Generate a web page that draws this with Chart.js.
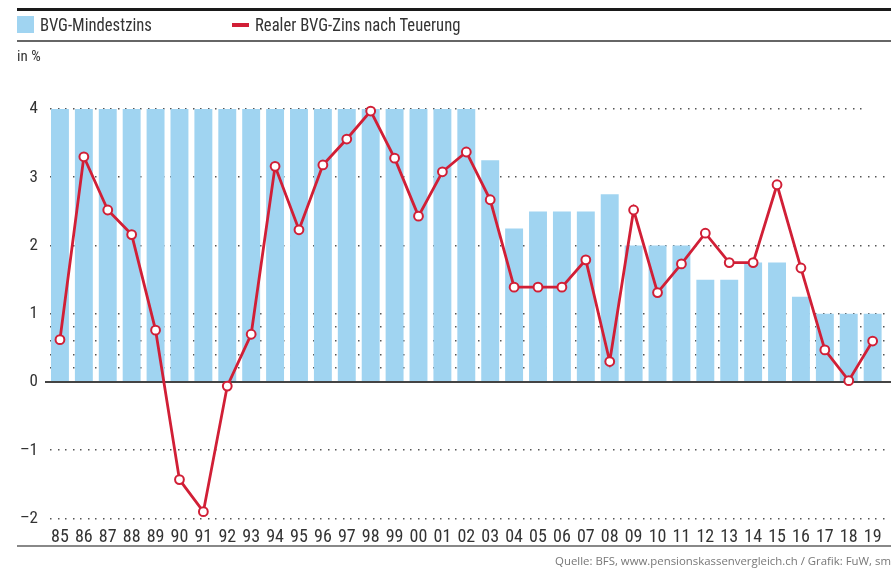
<!DOCTYPE html>
<html>
<head>
<meta charset="utf-8">
<script src="https://cdn.jsdelivr.net/npm/chart.js@4.4.0/dist/chart.umd.min.js"></script>
<style>
  html, body { margin: 0; padding: 0; background: #fff; }
  #wrap { position: relative; width: 891px; height: 572px; overflow: hidden; font-family: 'Roboto Condensed', 'Open Sans', sans-serif; color: #333; }
  #c { position: absolute; left: 0; top: 0; }
  .abs { position: absolute; }
  #topline { left: 17px; top: 8px; width: 874px; height: 3px; background: #1a1a1a; }
  #legline { left: 17px; top: 40px; width: 874px; height: 1.5px; background: #666; }
  #botline { left: 17px; top: 545px; width: 874px; height: 1.5px; background: #888; }
  #sq { left: 17px; top: 16px; width: 17px; height: 17px; background: #a0d4f1; }
  #redl { left: 232px; top: 23px; width: 17px; height: 4px; background: #d11f36; }
  .leg { font-size: 18.5px; line-height: 18px; top: 16px; white-space: nowrap; transform: scaleX(0.9); transform-origin: 0 0; }
  #unit { left: 17px; top: 49px; font-size: 15px; line-height: 15px; white-space: nowrap; }
  #src { right: 0px; top: 553px; font-family: 'Open Sans', 'DejaVu Sans', sans-serif; font-size: 11.4px; color: #777; white-space: nowrap; }
</style>
</head>
<body>
<div id="wrap">
  <canvas id="c" width="891" height="572"></canvas>
  <div class="abs" id="topline"></div>
  <div class="abs" id="legline"></div>
  <div class="abs" id="botline"></div>
  <div class="abs" id="sq"></div>
  <div class="abs leg" style="left:40px">BVG-Mindestzins</div>
  <div class="abs" id="redl"></div>
  <div class="abs leg" style="left:255px">Realer BVG-Zins nach Teuerung</div>
  <div class="abs" id="unit">in %</div>
  <div class="abs" id="src">Quelle: BFS, www.pensionskassenvergleich.ch / Grafik: FuW, sm</div>
</div>
<script>
const years = ['85','86','87','88','89','90','91','92','93','94','95','96','97','98','99','00','01','02','03','04','05','06','07','08','09','10','11','12','13','14','15','16','17','18','19'];
const minRate = [4,4,4,4,4,4,4,4,4,4,4,4,4,4,4,4,4,4,3.25,2.25,2.5,2.5,2.5,2.75,2,2,2,1.5,1.5,1.75,1.75,1.25,1,1,1];
const realRate = [0.62,3.30,2.52,2.16,0.76,-1.43,-1.90,-0.06,0.70,3.16,2.23,3.18,3.56,3.97,3.28,2.43,3.08,3.37,2.67,1.39,1.39,1.39,1.79,0.30,2.52,1.31,1.73,2.18,1.75,1.75,2.89,1.67,0.47,0.02,0.60];
const yTicks = [-2,-1,0,1,2,3,4];
const minorRows = [0.2,0.4,0.6,0.8];

const FONT = "'Roboto Condensed', 'Open Sans', sans-serif";
const BLUE = '#a0d4f1';
const RED = '#d11f36';

function dotted(ctx, x1, x2, y) {
  ctx.fillStyle = '#555';
  for (let x = x1; x <= x2; x += 7.5) {
    ctx.fillRect(Math.round(x), Math.round(y) - 1, 1.5, 1.5);
  }
}

const gridPlugin = {
  id: 'customGrid',
  beforeDatasetsDraw(chart) {
    const ctx = chart.ctx;
    const ys = chart.scales.y;
    const left = chart.chartArea.left + 2;
    ctx.save();
    yTicks.forEach(v => {
      if (v === 0) return;
      const right = v === 4 ? 863 : 889;
      dotted(ctx, left, right, ys.getPixelForValue(v));
    });
    minorRows.forEach(v => dotted(ctx, left, 889, ys.getPixelForValue(v)));
    ctx.restore();
  },
  afterDatasetDraw(chart, args) {
    if (args.index !== 0) return;
    const ctx = chart.ctx;
    const y = chart.scales.y.getPixelForValue(0);
    ctx.save();
    ctx.strokeStyle = '#444';
    ctx.lineWidth = 2;
    ctx.beginPath();
    ctx.moveTo(45, y);
    ctx.lineTo(891, y);
    ctx.stroke();
    ctx.restore();
  }
};

function build() {
  new Chart(document.getElementById('c'), {
    data: {
      labels: years,
      datasets: [
        {
          type: 'bar',
          label: 'BVG-Mindestzins',
          data: minRate,
          backgroundColor: BLUE,
          borderWidth: 0,
          barPercentage: 0.75,
          categoryPercentage: 1.0,
          order: 2
        },
        {
          type: 'line',
          label: 'Realer BVG-Zins nach Teuerung',
          data: realRate,
          borderColor: RED,
          borderWidth: 2.8,
          pointRadius: 4.4,
          pointBorderWidth: 2,
          pointBackgroundColor: '#fff',
          pointBorderColor: RED,
          tension: 0,
          clip: false,
          order: 1
        }
      ]
    },
    options: {
      responsive: false,
      devicePixelRatio: 1,
      animation: false,
      events: [],
      layout: { padding: { top: 109, right: 2, bottom: 0, left: 0 } },
      plugins: { legend: { display: false }, tooltip: { enabled: false } },
      scales: {
        x: {
          offset: true,
          grid: { display: false, drawTicks: false },
          border: { display: false },
          ticks: { color: '#333', font: { family: FONT, size: 18 }, padding: 8, maxRotation: 0, autoSkip: false },
          afterFit(scale) { scale.height = 53.5; }
        },
        y: {
          min: -2,
          max: 4,
          grid: { display: false, drawTicks: false },
          border: { display: false },
          afterBuildTicks(scale) { scale.ticks = yTicks.map(v => ({ value: v })); },
          ticks: {
            color: '#333',
            font: { family: FONT, size: 17 },
            padding: 10,
            callback: v => (v < 0 ? '\u2013' + Math.abs(v) : String(v))
          },
          afterFit(scale) { scale.width = 48; }
        }
      }
    },
    plugins: [gridPlugin]
  });
}
if (document.fonts && document.fonts.load) {
  Promise.all([document.fonts.load("18px 'Roboto Condensed'"), document.fonts.load("17px 'Roboto Condensed'")]).then(build, build);
} else { build(); }
</script>
</body>
</html>
